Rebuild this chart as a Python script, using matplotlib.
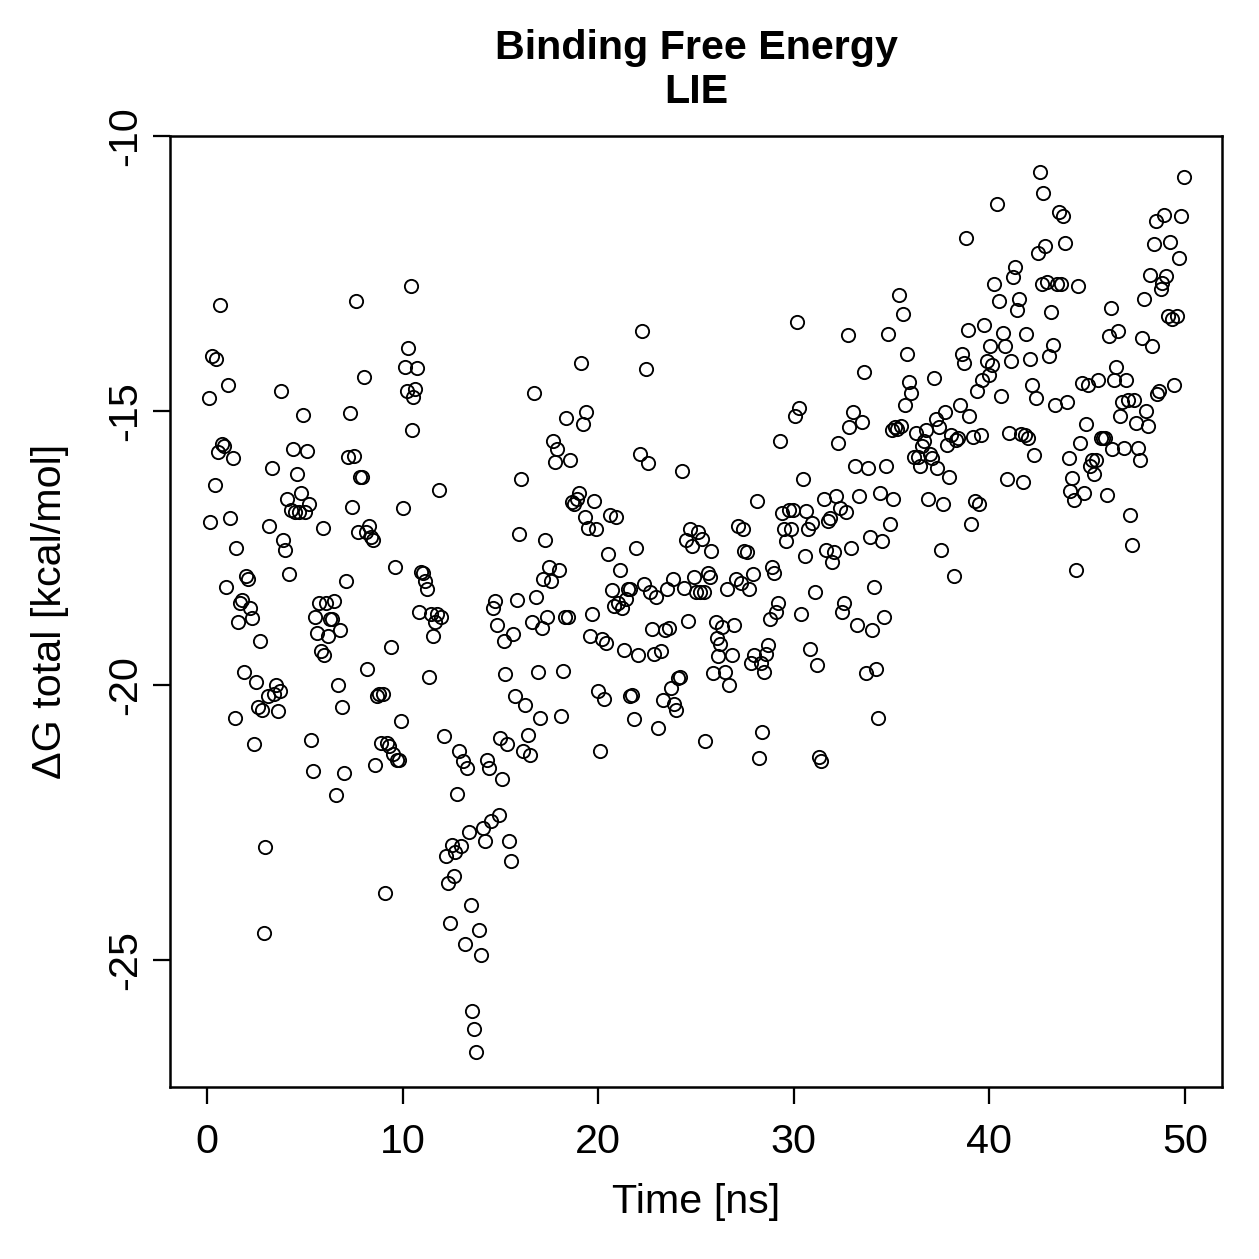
import matplotlib
matplotlib.use("Agg")
import matplotlib.pyplot as plt

time_ns = [
    0.1, 0.15, 0.25, 0.4, 0.45, 0.55, 0.65, 0.75, 0.85, 0.95, 1.05, 1.15, 1.3, 1.4, 1.5, 1.6, 1.7, 1.8, 1.9, 2.0,
    2.1, 2.2, 2.3, 2.4, 2.5, 2.6, 2.7, 2.8, 2.9, 2.95, 3.1, 3.15, 3.3, 3.4, 3.5, 3.6, 3.7, 3.8, 3.9, 4.0,
    4.1, 4.2, 4.3, 4.4, 4.5, 4.6, 4.7, 4.8, 4.9, 5.0, 5.1, 5.2, 5.3, 5.4, 5.5, 5.6, 5.7, 5.8, 5.9, 6.0,
    6.1, 6.2, 6.3, 6.4, 6.5, 6.6, 6.7, 6.8, 6.9, 7.0, 7.1, 7.2, 7.3, 7.4, 7.5, 7.6, 7.7, 7.8, 7.9, 8.0,
    8.1, 8.2, 8.3, 8.4, 8.5, 8.6, 8.7, 8.8, 8.9, 9.0, 9.1, 9.2, 9.3, 9.4, 9.5, 9.6, 9.7, 9.8, 9.9, 10.0,
    10.1, 10.2, 10.25, 10.4, 10.5, 10.55, 10.65, 10.75, 10.85, 10.95, 11.05, 11.15, 11.25, 11.35, 11.45, 11.55, 11.65, 11.75, 11.85, 11.95,
    12.1, 12.2, 12.3, 12.4, 12.5, 12.6, 12.7, 12.8, 12.9, 13.0, 13.1, 13.2, 13.3, 13.4, 13.5, 13.55, 13.65, 13.75, 13.9, 14.0,
    14.1, 14.2, 14.3, 14.4, 14.5, 14.6, 14.7, 14.8, 14.9, 15.0, 15.1, 15.2, 15.25, 15.35, 15.45, 15.55, 15.65, 15.75, 15.85, 15.95,
    16.05, 16.15, 16.25, 16.4, 16.5, 16.6, 16.7, 16.8, 16.9, 17.0, 17.1, 17.2, 17.3, 17.4, 17.5, 17.6, 17.7, 17.8, 17.9, 18.0,
    18.1, 18.2, 18.3, 18.35, 18.45, 18.55, 18.65, 18.75, 18.9, 19.0, 19.1, 19.2, 19.3, 19.4, 19.5, 19.6, 19.7, 19.8, 19.9, 20.0,
    20.1, 20.2, 20.3, 20.4, 20.5, 20.6, 20.7, 20.8, 20.9, 21.0, 21.1, 21.2, 21.3, 21.4, 21.5, 21.6, 21.65, 21.75, 21.85, 21.95,
    22.05, 22.15, 22.25, 22.35, 22.45, 22.55, 22.65, 22.75, 22.85, 22.95, 23.05, 23.2, 23.3, 23.4, 23.5, 23.6, 23.7, 23.8, 23.9, 24.0,
    24.1, 24.2, 24.3, 24.4, 24.5, 24.6, 24.7, 24.8, 24.9, 25.0, 25.1, 25.2, 25.3, 25.4, 25.45, 25.6, 25.7, 25.75, 25.85, 26.0,
    26.05, 26.15, 26.25, 26.35, 26.5, 26.6, 26.7, 26.85, 26.95, 27.05, 27.15, 27.3, 27.4, 27.45, 27.6, 27.7, 27.8, 27.9, 27.95, 28.1,
    28.2, 28.3, 28.4, 28.5, 28.6, 28.7, 28.8, 28.9, 29.0, 29.1, 29.2, 29.3, 29.4, 29.5, 29.6, 29.75, 29.85, 29.95, 30.05, 30.15,
    30.25, 30.35, 30.45, 30.55, 30.65, 30.75, 30.85, 30.95, 31.1, 31.2, 31.3, 31.4, 31.55, 31.65, 31.75, 31.85, 31.95, 32.05, 32.15, 32.25,
    32.35, 32.45, 32.55, 32.65, 32.75, 32.85, 32.95, 33.05, 33.15, 33.25, 33.35, 33.5, 33.6, 33.7, 33.8, 33.9, 34.0, 34.1, 34.2, 34.3,
    34.4, 34.5, 34.6, 34.7, 34.8, 34.9, 35.0, 35.1, 35.2, 35.3, 35.4, 35.5, 35.6, 35.7, 35.8, 35.9, 36.0, 36.15, 36.25, 36.35,
    36.45, 36.55, 36.65, 36.75, 36.85, 36.95, 37.05, 37.15, 37.25, 37.35, 37.45, 37.55, 37.65, 37.75, 37.85, 37.95, 38.05, 38.2, 38.3, 38.4,
    38.5, 38.6, 38.7, 38.8, 38.9, 38.95, 39.05, 39.15, 39.25, 39.35, 39.45, 39.55, 39.65, 39.75, 39.9, 40.0, 40.05, 40.15, 40.25, 40.4,
    40.5, 40.6, 40.7, 40.8, 40.9, 41.0, 41.1, 41.2, 41.3, 41.4, 41.5, 41.6, 41.7, 41.8, 41.9, 42.0, 42.1, 42.2, 42.3, 42.4,
    42.5, 42.6, 42.7, 42.75, 42.85, 42.95, 43.05, 43.15, 43.25, 43.35, 43.45, 43.55, 43.65, 43.75, 43.85, 43.95, 44.05, 44.15, 44.25, 44.35,
    44.45, 44.55, 44.65, 44.75, 44.85, 44.95, 45.05, 45.15, 45.25, 45.35, 45.45, 45.55, 45.7, 45.8, 45.9, 46.0, 46.1, 46.2, 46.3, 46.4,
    46.5, 46.6, 46.7, 46.8, 46.9, 47.0, 47.1, 47.2, 47.3, 47.4, 47.5, 47.6, 47.7, 47.8, 47.9, 48.0, 48.1, 48.2, 48.3, 48.4,
    48.5, 48.6, 48.7, 48.8, 48.85, 48.95, 49.05, 49.15, 49.25, 49.35, 49.45, 49.6, 49.7, 49.8, 49.95,
]

dg_total = [
    -14.76, -17.02, -14.0, -16.35, -14.05, -15.75, -13.07, -15.6, -15.65, -18.2, -14.53, -16.95, -15.87, -20.6, -17.5, -18.84, -18.5, -18.45, -19.75, -18.0,
    -18.07, -18.6, -18.78, -21.07, -19.93, -20.4, -19.2, -20.44, -24.5, -22.95, -20.2, -17.1, -16.05, -20.16, -20.0, -20.47, -20.1, -14.64, -17.35, -17.53,
    -16.6, -17.98, -16.8, -15.7, -16.85, -16.15, -16.85, -16.5, -15.07, -16.85, -15.73, -16.7, -21.0, -21.55, -18.75, -19.05, -18.5, -19.37, -17.13, -19.45,
    -18.5, -19.1, -18.8, -18.8, -18.47, -22.0, -20.0, -19.0, -20.4, -21.6, -18.1, -15.84, -15.05, -16.75, -15.82, -13.0, -17.2, -16.2, -16.2, -14.38,
    -17.2, -19.7, -17.1, -17.3, -17.36, -21.45, -20.2, -20.15, -21.05, -20.15, -23.78, -21.05, -21.1, -19.3, -21.25, -17.85, -21.35, -21.35, -20.65, -16.78,
    -14.2, -14.65, -13.85, -12.73, -15.36, -14.75, -14.6, -14.22, -18.67, -17.93, -17.95, -18.1, -18.24, -19.84, -18.7, -19.1, -18.84, -18.7, -16.45, -18.75,
    -20.93, -23.1, -23.6, -24.33, -22.9, -23.47, -23.04, -21.98, -21.2, -22.93, -21.38, -24.7, -21.5, -22.67, -24.0, -25.93, -26.25, -26.67, -24.45, -24.9,
    -22.6, -22.84, -21.35, -21.5, -22.47, -18.6, -18.47, -18.9, -22.35, -20.95, -21.7, -19.2, -19.8, -21.07, -22.84, -23.2, -19.07, -20.2, -18.45, -17.25,
    -16.25, -21.2, -20.35, -20.9, -21.27, -18.85, -14.67, -18.4, -19.75, -20.6, -18.95, -18.07, -17.36, -18.75, -17.85, -18.1, -15.56, -15.93, -15.7, -17.9,
    -20.55, -19.73, -18.75, -15.13, -18.75, -15.9, -16.67, -16.7, -16.6, -16.5, -14.13, -15.25, -16.93, -15.02, -17.13, -19.1, -18.7, -16.65, -17.15, -20.1,
    -21.2, -19.16, -20.25, -19.22, -17.6, -16.9, -18.27, -18.56, -16.93, -18.5, -17.9, -18.6, -19.36, -18.42, -18.25, -20.2, -18.25, -20.18, -20.62, -17.5,
    -19.45, -15.78, -13.55, -18.15, -14.24, -15.96, -18.3, -18.98, -19.42, -18.4, -20.78, -19.38, -20.27, -19.0, -18.25, -18.95, -20.04, -18.07, -20.33, -20.44,
    -19.87, -19.85, -16.1, -18.22, -17.35, -18.82, -17.16, -17.47, -18.02, -18.3, -17.2, -18.3, -17.33, -18.3, -21.02, -17.95, -18.02, -17.55, -19.78, -18.84,
    -19.13, -19.47, -19.24, -18.93, -19.75, -18.25, -20.0, -19.45, -18.9, -18.07, -17.1, -18.13, -17.16, -17.55, -17.58, -18.24, -19.6, -17.98, -19.45, -16.65,
    -21.33, -19.6, -20.84, -19.76, -19.42, -19.26, -18.8, -17.84, -17.95, -18.67, -18.5, -15.56, -16.87, -17.16, -17.38, -16.8, -17.16, -16.8, -15.1, -13.38,
    -14.95, -18.7, -16.24, -17.64, -16.82, -17.16, -19.33, -17.05, -18.3, -19.62, -21.3, -21.38, -16.6, -17.53, -17.0, -16.96, -17.76, -17.58, -16.55, -15.58,
    -16.78, -18.67, -18.5, -16.85, -13.62, -15.3, -17.5, -15.02, -16.0, -18.9, -16.55, -15.2, -14.3, -19.78, -16.05, -17.3, -19.0, -18.2, -19.7, -20.6,
    -16.5, -17.38, -18.75, -16.0, -13.6, -17.07, -15.36, -16.6, -15.3, -15.33, -12.9, -15.27, -13.24, -14.9, -13.96, -14.47, -14.67, -15.84, -15.4, -15.85,
    -16.0, -15.65, -15.55, -15.36, -16.6, -15.78, -15.87, -14.4, -15.16, -16.05, -15.3, -17.53, -16.7, -15.02, -15.62, -16.2, -15.44, -18.0, -15.53, -15.5,
    -14.9, -13.96, -14.13, -11.85, -13.53, -15.1, -17.07, -15.47, -16.64, -14.64, -16.7, -15.44, -14.45, -13.44, -14.1, -14.35, -13.82, -14.16, -12.7, -11.24,
    -13.0, -14.73, -13.58, -13.82, -16.25, -15.4, -14.1, -12.56, -12.38, -13.16, -12.96, -15.42, -16.3, -15.45, -13.6, -15.5, -14.05, -14.53, -15.8, -14.76,
    -12.13, -10.65, -12.7, -11.03, -12.0, -12.65, -14.0, -13.2, -13.8, -14.9, -12.7, -11.38, -12.7, -11.45, -11.95, -14.84, -15.87, -16.47, -16.22, -16.62,
    -17.9, -12.73, -15.58, -14.5, -16.5, -15.24, -14.53, -16.0, -15.9, -16.15, -15.9, -14.45, -15.5, -15.5, -15.5, -16.53, -13.64, -13.13, -15.7, -14.44,
    -14.2, -13.55, -15.1, -14.85, -15.67, -14.45, -14.8, -16.9, -17.45, -14.8, -15.22, -15.67, -15.9, -13.67, -12.96, -15.0, -15.27, -12.53, -13.82, -11.96,
    -11.55, -14.7, -14.64, -12.78, -12.67, -11.44, -12.55, -13.27, -11.93, -13.33, -14.53, -13.27, -12.22, -11.45, -10.75,
]

x_ticks = [0, 10, 20, 30, 40, 50]
y_ticks = [-25, -20, -15, -10]
title_text = "Binding Free Energy\nLIE"
x_label = "Time [ns]"
y_label = "\u0394G total [kcal/mol]"

plt.rcParams['font.family'] = ['Liberation Sans', 'DejaVu Sans']

W = 1259
dpi = 180
fig = plt.figure(figsize=(W / dpi, W / dpi), dpi=dpi)
ax = fig.add_axes([170 / W, 1 - 1087 / W, (1222 - 170) / W, (1087 - 136) / W])

ax.plot(time_ns, dg_total, linestyle='none', marker='o', markersize=5.3,
        markerfacecolor='none', markeredgecolor='black', markeredgewidth=0.75)

ax.set_xlim(-1.9, 51.9)
ax.set_ylim(-27.31, -10.0)
ax.set_xticks(x_ticks)
ax.set_yticks(y_ticks)
ax.set_yticklabels([str(v) for v in y_ticks], rotation=90, va='center')
ax.tick_params(axis='both', length=6.8, width=0.9, labelsize=16.5, direction='out')
ax.tick_params(axis='x', pad=7.5)
ax.tick_params(axis='y', pad=3.5)
for s in ax.spines.values():
    s.set_linewidth(1.0)

ax.set_xlabel(x_label, fontsize=16.5, labelpad=9)
ax.set_ylabel(y_label, fontsize=16.5, labelpad=15)

fig.text(696 / W, 1 - 70 / W, title_text, ha='center', va='center',
         fontsize=16.5, fontweight='bold', linespacing=1.2)

fig.savefig("out.png", dpi=dpi)
